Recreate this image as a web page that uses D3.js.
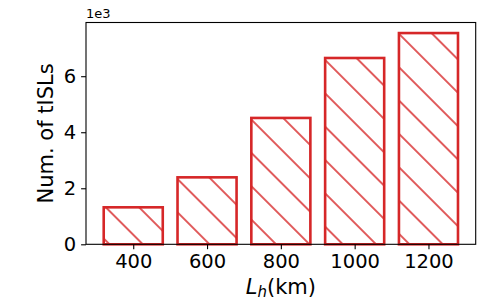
<!DOCTYPE html>
<html lang="en">
<head>
	<meta charset="UTF-8">
	<title>tISLs</title>
	<script src="https://cdn.jsdelivr.net/npm/d3@7"></script>
	<style>
		body {
			margin: 0;
			background: #fff;
		}

		svg {
			font-family: "DejaVu Sans", sans-serif;
		}

		.domain {
			display: none;
		}
	</style>
</head>
<body>
<script>
	// chart values
	var heights = [400, 600, 800, 1000, 1200];
	var counts = [1320, 2390, 4510, 6650, 7540];
	var yTicks = [0, 2000, 4000, 6000];

	var width = 500, height = 300;
	var plotLeft = 86, plotRight = 475.7, plotTop = 22.5, plotBottom = 244.3;
	var red = "#d62728";

	var svg = d3.select("body").append("svg")
		.attr("width", width)
		.attr("height", height);

	var x = d3.scaleLinear()
		.domain([272, 1328])
		.range([plotLeft, plotRight]);
	var y = d3.scaleLinear()
		.domain([0, d3.max(counts) * 1.05])
		.range([plotBottom, plotTop]);

	// hatch "\" pattern
	var sp = 33.33 / Math.SQRT2;
	var pat = svg.append("defs").append("pattern")
		.attr("id", "hatch")
		.attr("patternUnits", "userSpaceOnUse")
		.attr("width", sp)
		.attr("height", 10)
		.attr("patternTransform", "translate(0," + (1.5 + 16.67) + ") rotate(-45)");
	pat.append("line")
		.attr("x1", sp / 2).attr("x2", sp / 2)
		.attr("y1", -1).attr("y2", 11)
		.attr("stroke", red)
		.attr("stroke-width", 1.5);

	svg.selectAll(".bar")
		.data(heights)
		.enter().append("rect")
		.attr("class", "bar")
		.attr("x", function (d) { return x(d - 80); })
		.attr("width", function (d) { return x(d + 80) - x(d - 80); })
		.attr("y", function (d, i) { return y(counts[i]); })
		.attr("height", function (d, i) { return y(0) - y(counts[i]); })
		.attr("fill", "url(#hatch)")
		.attr("stroke", red)
		.attr("stroke-width", 2.6);

	// frame
	svg.append("rect")
		.attr("x", plotLeft).attr("y", plotTop)
		.attr("width", plotRight - plotLeft).attr("height", plotBottom - plotTop)
		.attr("fill", "none")
		.attr("stroke", "#000")
		.attr("stroke-width", 1.1);

	svg.append("g")
		.attr("transform", "translate(0," + plotBottom + ")")
		.call(d3.axisBottom(x).tickValues(heights).tickSize(4.9).tickPadding(4.9)
			.tickFormat(d3.format("d")));
	svg.append("g")
		.attr("transform", "translate(" + plotLeft + ",0)")
		.call(d3.axisLeft(y).tickValues(yTicks).tickSize(4.9).tickPadding(4.9)
			.tickFormat(function (d) { return d / 1000; }));

	svg.selectAll(".tick line").attr("stroke", "#000").attr("stroke-width", 1.1);
	svg.selectAll(".tick text")
		.attr("fill", "#000")
		.style("font-size", "19.5px")
		.style("font-family", "DejaVu Sans");

	// offset text
	svg.append("text")
		.attr("x", plotLeft)
		.attr("y", 17.5)
		.style("font-size", "13px")
		.text("1e3");

	// axis labels
	svg.append("text")
		.attr("transform", "translate(53," + ((plotTop + plotBottom) / 2) + ") rotate(-90)")
		.attr("text-anchor", "middle")
		.style("font-size", "21px")
		.text("Num. of tISLs");

	var xl = svg.append("text")
		.attr("x", (plotLeft + plotRight) / 2)
		.attr("y", 293.5)
		.attr("text-anchor", "middle")
		.style("font-size", "21px");
	xl.append("tspan").style("font-style", "italic").text("L");
	xl.append("tspan").style("font-style", "italic").style("font-size", "15px")
		.attr("dy", 3).text("h");
	xl.append("tspan").attr("dy", -3).text("(km)");
</script>
</body>
</html>
